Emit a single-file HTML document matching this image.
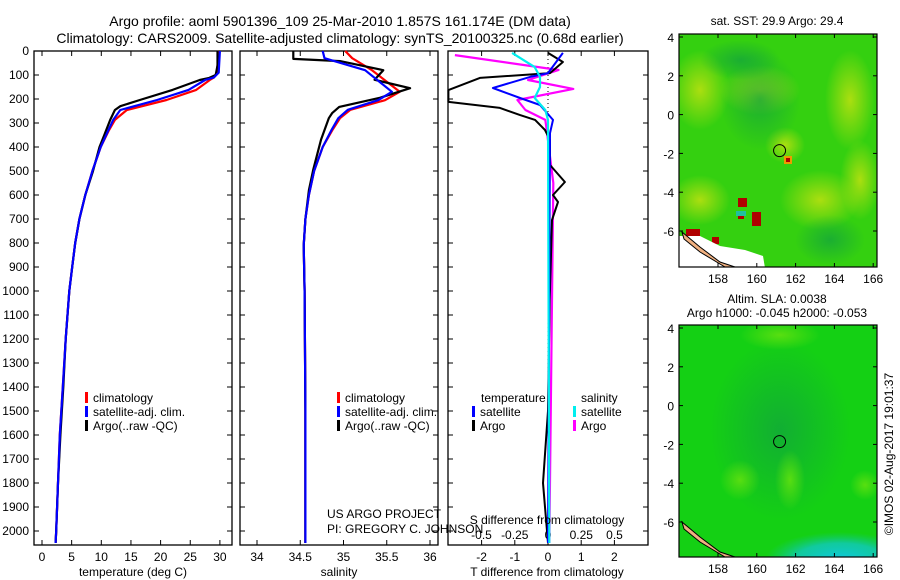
<!DOCTYPE html>
<html><head><meta charset="utf-8"><style>
body{margin:0;background:#fff}
svg{font-family:"Liberation Sans",sans-serif;display:block}
</style></head><body>
<svg id="c" width="900" height="580" viewBox="0 0 900 580">
<defs>
<radialGradient id="y1" cx="50%" cy="50%" r="50%"><stop offset="0" stop-color="#b8e010" stop-opacity="0.9"/><stop offset="1" stop-color="#b8e010" stop-opacity="0"/></radialGradient>
<radialGradient id="d1" cx="50%" cy="50%" r="50%"><stop offset="0" stop-color="#10a040" stop-opacity="0.7"/><stop offset="1" stop-color="#10a040" stop-opacity="0"/></radialGradient>
<radialGradient id="l2" cx="50%" cy="50%" r="50%"><stop offset="0" stop-color="#60e010" stop-opacity="0.9"/><stop offset="1" stop-color="#60e010" stop-opacity="0"/></radialGradient>
<radialGradient id="cy" cx="50%" cy="50%" r="50%"><stop offset="0" stop-color="#10c8e0"/><stop offset="0.6" stop-color="#10c8c0" stop-opacity="0.8"/><stop offset="1" stop-color="#10c890" stop-opacity="0"/></radialGradient>
</defs>
<text x="340" y="26" font-size="14" text-anchor="middle">Argo profile: aoml 5901396_109 25-Mar-2010 1.857S 161.174E (DM data)</text>
<text x="340" y="43" font-size="14" text-anchor="middle">Climatology: CARS2009. Satellite-adjusted climatology: synTS_20100325.nc (0.68d earlier)</text>
<g id="g"></g>
</svg>
<script>
// ---- data ----
const tDepthArgo=[0,60,100,112,121,162,204,230,246,287,350,400,500,600,700,800,900,1000,1200,1400,1600,1800,2000,2050];
const tArgo=[29.6,29.6,29.3,28.2,26.6,22,16.5,13.2,12.3,11.5,10.5,9.7,8.6,7.3,6.3,5.6,5.1,4.6,4.0,3.6,3.1,2.7,2.4,2.3];
const tDepthClim=[0,90,110,121,162,204,246,287,330,400,500,600,700,800,900,1000,1200,1400,1600,1800,2000,2050];
const tClim=[29.8,29.5,29,28.3,26,21,14.3,12.3,11.3,9.9,8.5,7.3,6.3,5.6,5.1,4.6,4.0,3.5,3.0,2.7,2.4,2.3];
const tSat=[30,29.8,29,27.5,24.7,19.4,13.2,12,11.2,9.9,8.5,7.3,6.3,5.6,5.1,4.6,4.0,3.5,3.0,2.7,2.4,2.3];
const sDepthArgo=[0,33,42,80,120,155,195,233,258,280,370,495,580,700,810,1000,1500,2000,2050];
const sArgo=[34.42,34.42,34.96,35.46,35.36,35.77,35.42,34.95,34.87,34.83,34.74,34.65,34.6,34.56,34.54,34.55,34.56,34.56,34.56];
const sDepthClim=[0,30,80,170,205,245,280,330,400,500,600,700,810,1000,1500,2000,2050];
const sClim=[35.02,35.1,35.33,35.65,35.48,35.08,34.96,34.87,34.76,34.66,34.6,34.56,34.54,34.55,34.56,34.56,34.56];
const sSat=[34.76,34.78,35.25,35.56,35.4,35.05,34.94,34.86,34.76,34.66,34.6,34.56,34.54,34.55,34.56,34.56,34.56];
const dTArgoDepth=[8,46,92,112,163,212,237,267,287,329,371,475,546,600,629,704,1038,1500,1800,2050];
const dTArgo=[0,0.45,0.06,-2.05,-3,-3,-1.45,-0.84,-0.39,-0.09,0.06,0.06,0.51,0.15,0.3,0.12,0.05,0,-0.15,0];
const dTSatDepth=[8,92,108,154,196,225,287,342,2050];
const dTSat=[0.45,0,-0.54,-1.66,-0.84,-0.24,0.15,0.06,0];
const dSArgoDepth=[17,79,121,158,204,246,287,329,550,2050];
const dSArgo=[-0.7,0.08,-0.15,0.19,-0.23,-0.17,-0.02,-0.01,0.04,0.01];
const dSSatDepth=[8,67,108,150,196,246,287,2050];
const dSSat=[-0.27,-0.1,-0.06,-0.06,-0.1,-0.02,0,0.01];
const depthTicks=[0,100,200,300,400,500,600,700,800,900,1000,1100,1200,1300,1400,1500,1600,1700,1800,1900,2000];
const tTicks=[0,5,10,15,20,25,30];
const sTicks=[34,34.5,35,35.5,36];
const dTTicks=[-2,-1,0,1,2];
const dSTicks=[-0.5,-0.25,0,0.25,0.5];
const lonTicks=[158,160,162,164,166];
const latTicks=[4,2,0,-2,-4,-6];
const floatLon=161.174, floatLat=-1.857;

const NS='http://www.w3.org/2000/svg';
const G=document.getElementById('g');
function el(t,a,p){const e=document.createElementNS(NS,t);for(const k in a)e.setAttribute(k,a[k]);(p||G).appendChild(e);return e;}
function txt(x,y,s,anchor,size,p){const e=el('text',{x:x,y:y,'font-size':size||12,'text-anchor':anchor||'start'},p);e.textContent=s;return e;}
const yD=d=>51+d*0.24;
const xT=v=>42+v*5.93;
const xS=v=>257+(v-34)*86.5;
const xDT=v=>548+v*33.2;
const xDS=v=>548+v*133;
const PT=51,PB=545;

function panel(x0,x1,name){
  const r=el('rect',{x:x0,y:PT,width:x1-x0,height:PB-PT,fill:'none',stroke:'#000','stroke-width':1.3});
  
  
  depthTicks.forEach(d=>{el('line',{x1:x0,x2:x0+5,y1:yD(d),y2:yD(d),stroke:'#000'});el('line',{x1:x1,x2:x1-5,y1:yD(d),y2:yD(d),stroke:'#000'});});
}
function xticks(vals,fx,labels,ly){
  vals.forEach((v,i)=>{const x=fx(v);el('line',{x1:x,x2:x,y1:PB,y2:PB-5,stroke:'#000'});el('line',{x1:x,x2:x,y1:PT,y2:PT+5,stroke:'#000'});
    const t=txt(x,ly,labels[i],'middle');});
}
function line(ds,vs,fx,col,w,name){
  const pts=ds.map((d,i)=>fx(vs[i]).toFixed(1)+','+yD(d).toFixed(1)).join(' ');
  const p=el('polyline',{points:pts,fill:'none',stroke:col,'stroke-width':w,'stroke-linejoin':'round'});
  
  
}
function legend(x,y,col,label){
  el('rect',{x:x,y:y-10,width:3,height:11,fill:col});
  const t=txt(x+8,y,label);
}

// panel 1: temperature
panel(34,232,'temperature-panel');
depthTicks.forEach(d=>{const t=txt(29,yD(d)+4,String(d),'end');});
xticks(tTicks,xT,tTicks.map(String),561);
line(tDepthClim,tClim,xT,'#f00',2.2,'temp-climatology-line');
line(tDepthArgo,tArgo,xT,'#000',2.2,'temp-argo-line');
line(tDepthClim,tSat,xT,'#00f',2.2,'temp-satellite-line');
legend(85,402,'#f00','climatology');legend(85,416,'#00f','satellite-adj. clim.');legend(85,430,'#000','Argo(..raw -QC)');
{const t=txt(133,576,'temperature (deg C)','middle');}

// panel 2: salinity
panel(240,438,'salinity-panel');
xticks(sTicks,xS,['34','34.5','35','35.5','36'],561);
line(sDepthClim,sClim,xS,'#f00',2.2,'sal-climatology-line');
line(sDepthArgo,sArgo,xS,'#000',2.2,'sal-argo-line');
line(sDepthClim,sSat,xS,'#00f',2.2,'sal-satellite-line');
legend(337,402,'#f00','climatology');legend(337,416,'#00f','satellite-adj. clim.');legend(337,430,'#000','Argo(..raw -QC)');
{const t=txt(339,576,'salinity','middle');}
txt(327,518,'US ARGO PROJECT');
txt(327,533,'PI: GREGORY C. JOHNSON');

// panel 3: differences
panel(448,648,'difference-panel');
el('line',{x1:548,x2:548,y1:PT,y2:PB,stroke:'#000','stroke-dasharray':'1,3'});
xticks(dTTicks,xDT,['-2','-1','0','1','2'],561);
dSTicks.forEach((v,i)=>{const t=txt(xDS(v),539,['-0.5','-0.25','0','0.25','0.5'][i],'middle');});
line(dSArgoDepth,dSArgo,xDS,'#f0f',2.2,'sdiff-argo-line');
line(dTArgoDepth,dTArgo,xDT,'#000',2,'tdiff-argo-line');
line(dTSatDepth,dTSat,xDT,'#00f',2,'tdiff-satellite-line');
line(dSSatDepth,dSSat,xDS,'#0ee',2.2,'sdiff-satellite-line');
txt(481,402,'temperature');
txt(581,402,'salinity');
legend(472,416,'#00f','satellite');legend(472,430,'#000','Argo');
legend(573,416,'#0ee','satellite');legend(573,430,'#f0f','Argo');
txt(547,524,'S difference from climatology','middle');
txt(547,576,'T difference from climatology','middle');

// maps
const xL=v=>718+(v-158)*19.4;
function map(top,bottom,y4,kind,name){
  const yL=v=>y4+(4-v)*19.4;
  const g=el('g',{});
  
  
  const cp=el('clipPath',{id:'cp'+kind},g);el('rect',{x:679,y:top,width:198,height:bottom-top},cp);
  const m=el('g',{'clip-path':'url(#cp'+kind+')'},g);
  if(kind==1){
    el('rect',{x:679,y:top,width:198,height:bottom-top,fill:'#34d010'},m);
    [[700,90,30,40],[850,100,25,50],[820,200,40,30],[860,180,20,40],[700,200,30,25],[785,145,20,18],[760,90,40,25]].forEach(b=>el('ellipse',{cx:b[0],cy:b[1],rx:b[2],ry:b[3],fill:'url(#y1)'},m));
    [[760,100,40,50],[830,240,35,25],[740,60,40,20]].forEach(b=>el('ellipse',{cx:b[0],cy:b[1],rx:b[2],ry:b[3],fill:'url(#d1)'},m));
    el('rect',{x:784,y:156,width:8,height:8,fill:'#ee9900'},m);el('rect',{x:786,y:158,width:4,height:4,fill:'#b00000'},m);
    [[738,198,9,9],[752,212,9,14],[738,212,6,7],[686,229,14,7],[712,237,7,7]].forEach(b=>el('rect',{x:b[0],y:b[1],width:b[2],height:b[3],fill:'#b00000'},m));
    el('rect',{x:736,y:211,width:10,height:5,fill:'#20c0a0'},m);
    el('polygon',{points:'679,236 700,236 720,246 745,250 763,256 765,268 679,268',fill:'#fff'},m);
  } else {
    el('rect',{x:679,y:top,width:198,height:bottom-top,fill:'#14d014'},m);
    el('ellipse',{cx:780,cy:430,rx:70,ry:90,fill:'url(#d1)'},m);
    [[790,480,15,30],[740,480,20,20],[865,485,15,15],[780,335,40,15]].forEach(b=>el('ellipse',{cx:b[0],cy:b[1],rx:b[2],ry:b[3],fill:'url(#l2)'},m));
    el('ellipse',{cx:840,cy:560,rx:75,ry:28,fill:'url(#cy)'},m);
  }
  el('polygon',{points:'682,'+(bottom-35)+' 700,'+(bottom-20)+' 720,'+(bottom-5)+' 735,'+bottom+' 725,'+bottom+' 700,'+(bottom-15)+' 684,'+(bottom-28),fill:'#f0b080',stroke:'#000','stroke-width':1},m);
  el('rect',{x:679,y:top,width:198,height:bottom-top,fill:'none',stroke:'#000','stroke-width':1.2},g);
  lonTicks.forEach(v=>{el('line',{x1:xL(v),x2:xL(v),y1:bottom,y2:bottom-4,stroke:'#000'},g);el('line',{x1:xL(v),x2:xL(v),y1:top,y2:top+4,stroke:'#000'},g);txt(xL(v),bottom+16,String(v),'middle',12,g);});
  latTicks.forEach(v=>{el('line',{x1:679,x2:683,y1:yL(v),y2:yL(v),stroke:'#000'},g);el('line',{x1:877,x2:873,y1:yL(v),y2:yL(v),stroke:'#000'},g);txt(674,yL(v)+5,String(v),'end',12,g);});
  const c=el('circle',{cx:xL(floatLon),cy:yL(floatLat),r:6,fill:'none',stroke:'#000','stroke-width':1},g);
  
  
}
map(34,267,37,1,'sst-map');
map(325,557,328,2,'sla-map');
txt(777,25,'sat. SST: 29.9 Argo: 29.4','middle');
txt(777,303,'Altim. SLA: 0.0038','middle');
txt(777,317,'Argo h1000: -0.045 h2000: -0.053','middle');
{const t=txt(0,0,'©IMOS 02-Aug-2017 19:01:37','middle');t.setAttribute('transform','translate(893,454) rotate(-90)');}
</script>
</body></html>
